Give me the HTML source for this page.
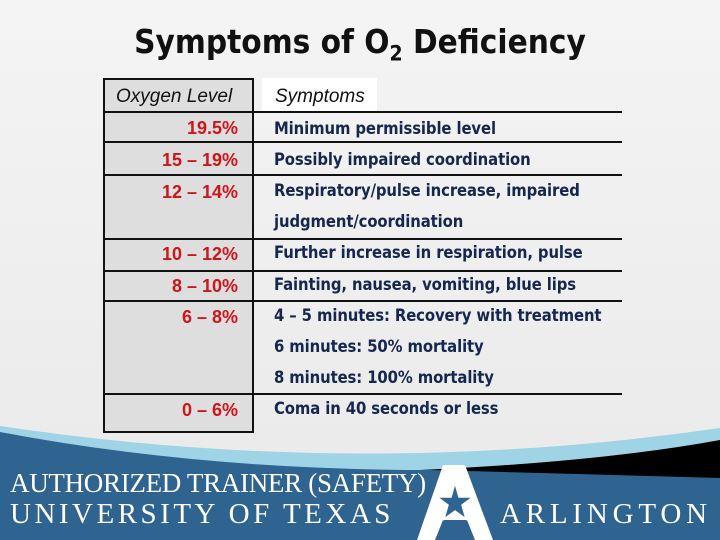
<!DOCTYPE html>
<html><head><meta charset="utf-8"><style>
body{margin:0;width:720px;height:540px;overflow:hidden;position:relative;font-family:"Liberation Sans",sans-serif;background:linear-gradient(#f4f4f4,#e9e9e9)}
.abs{position:absolute}
.title{left:0;width:720px;top:22px;text-align:center;font-size:33px;font-weight:bold;color:#111;font-family:"DejaVu Sans Condensed","Liberation Sans",sans-serif}
.lv{position:absolute;right:482px;color:#d0141a;font-weight:bold;font-size:18px;text-align:right}
.sy{position:absolute;left:274px;color:#15264f;font-weight:bold;font-size:16.5px;font-family:"DejaVu Sans Condensed","Liberation Sans",sans-serif;font-stretch:condensed;letter-spacing:-0.1px}
.hl{position:absolute;left:103px;width:519px;height:2px;background:#111}
.ft{position:absolute;color:#fff;font-family:"Liberation Serif",serif}
</style></head><body>
<svg class="abs" style="left:0;top:0" width="720" height="540">
<path d="M0,426 Q360,480 720,428 L720,540 L0,540 Z" fill="#9fd3e6"/>
<path d="M420,470 Q600,462 720,440 L720,540 L420,540 Z" fill="#000"/>
<path d="M0,432 Q200,470 430,470 L720,478 L720,540 L0,540Z" fill="#2f6490"/>
</svg>
<div class="abs title">Symptoms of O<sub style="font-size:21px">2</sub> Deficiency</div>
<div class="abs" style="left:103px;top:78px;width:147px;height:351px;background:#dedede;border:2px solid #111"></div>
<div class="abs" style="left:262px;top:78px;width:115px;height:34px;background:#fff"></div>
<div class="abs" style="left:116px;top:86px;font-size:19px;font-style:italic;color:#111">Oxygen Level</div>
<div class="abs" style="left:275px;top:86px;font-size:19px;font-style:italic;color:#111">Symptoms</div>
<div class="hl" style="top:111px"></div>
<div class="hl" style="top:141px"></div>
<div class="hl" style="top:174px"></div>
<div class="hl" style="top:238px"></div>
<div class="hl" style="top:270px"></div>
<div class="hl" style="top:300px"></div>
<div class="hl" style="top:393px"></div>
<div class="lv" style="top:118px">19.5%</div>
<div class="lv" style="top:150px">15 – 19%</div>
<div class="lv" style="top:182px">12 – 14%</div>
<div class="lv" style="top:244px">10 – 12%</div>
<div class="lv" style="top:276px">8 – 10%</div>
<div class="lv" style="top:307px">6 – 8%</div>
<div class="lv" style="top:400px">0 – 6%</div>
<div class="sy" style="top:119px">Minimum permissible level</div>
<div class="sy" style="top:150px">Possibly impaired coordination</div>
<div class="sy" style="top:181px">Respiratory/pulse increase, impaired</div>
<div class="sy" style="top:212px">judgment/coordination</div>
<div class="sy" style="top:243px">Further increase in respiration, pulse</div>
<div class="sy" style="top:275px">Fainting, nausea, vomiting, blue lips</div>
<div class="sy" style="top:306px">4 – 5 minutes: Recovery with treatment</div>
<div class="sy" style="top:337px">6 minutes: 50% mortality</div>
<div class="sy" style="top:368px">8 minutes: 100% mortality</div>
<div class="sy" style="top:399px">Coma in 40 seconds or less</div>
<div class="ft" style="left:10px;top:468px;font-size:27px;letter-spacing:-0.3px">AUTHORIZED TRAINER (SAFETY)</div>
<div class="ft" style="left:10px;top:498px;font-size:29px;letter-spacing:3.5px">UNIVERSITY OF TEXAS</div>
<div class="ft" style="left:500px;top:498px;font-size:29px;letter-spacing:4.8px">ARLINGTON</div>
<svg class="abs" style="left:415px;top:465px" width="80" height="75">
<path d="M28,0 L50,0 L78,75 L60,75 L52,55 L28,55 L20,75 L2,75 Z" fill="#fff"/>
<polygon points="40,18 44,32 58,32 47,40 51,54 40,46 29,54 33,40 22,32 36,32" fill="#2f6490" stroke="#fff" stroke-width="1.5"/>
</svg>
</body></html>
